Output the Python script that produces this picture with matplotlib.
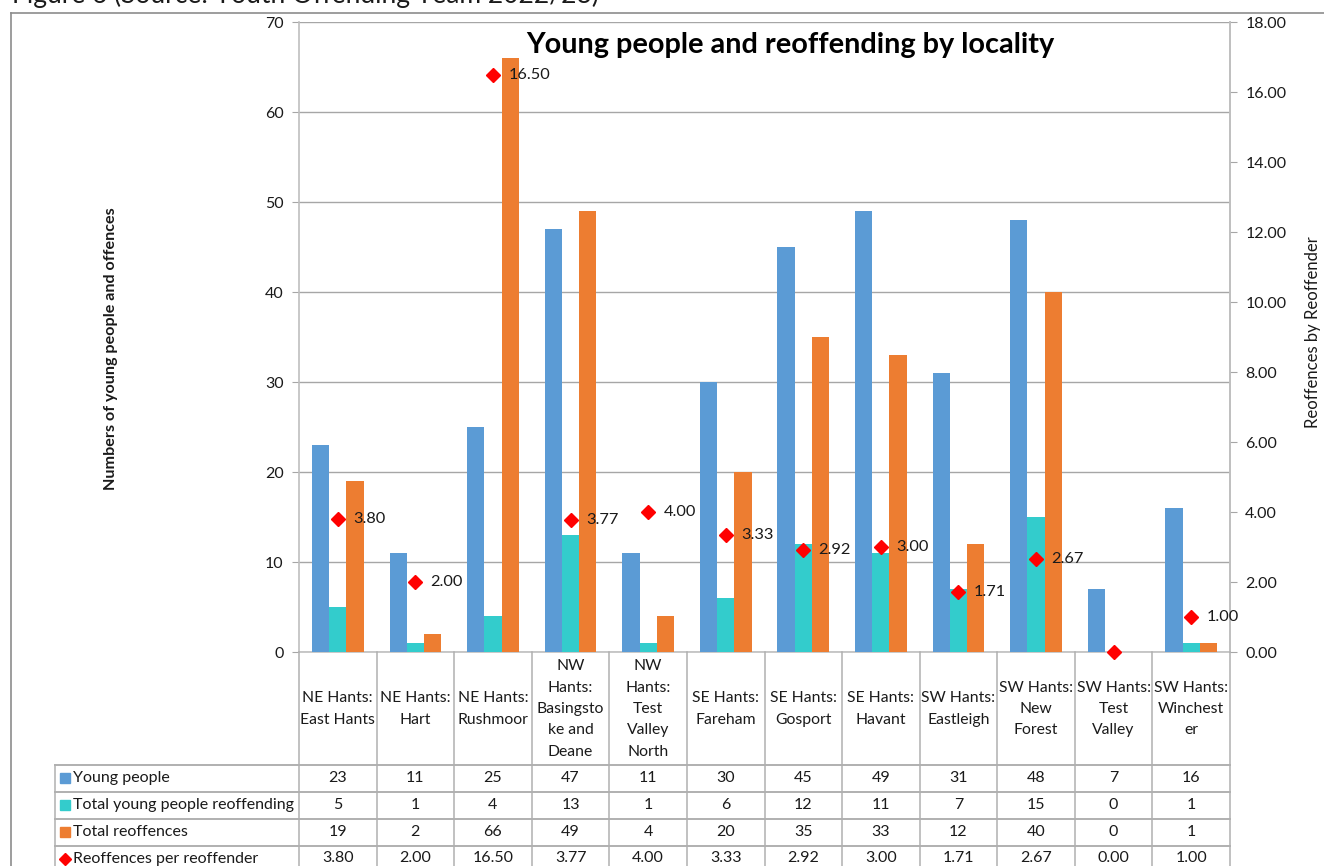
import matplotlib
matplotlib.use("Agg")
import matplotlib.pyplot as plt
from matplotlib.transforms import blended_transform_factory
from matplotlib.lines import Line2D
import numpy as np

plt.rcParams['font.family'] = ['Lato', 'DejaVu Sans']

categories = ["NE Hants:\nEast Hants", "NE Hants:\nHart", "NE Hants:\nRushmoor",
              "NW\nHants:\nBasingsto\nke and\nDeane", "NW\nHants:\nTest\nValley\nNorth",
              "SE Hants:\nFareham", "SE Hants:\nGosport", "SE Hants:\nHavant",
              "SW Hants:\nEastleigh", "SW Hants:\nNew\nForest", "SW Hants:\nTest\nValley",
              "SW Hants:\nWinchest\ner"]
young_people = [23, 11, 25, 47, 11, 30, 45, 49, 31, 48, 7, 16]
young_reoffending = [5, 1, 4, 13, 1, 6, 12, 11, 7, 15, 0, 1]
total_reoffences = [19, 2, 66, 49, 4, 20, 35, 33, 12, 40, 0, 1]
reoffences_per = [3.80, 2.00, 16.50, 3.77, 4.00, 3.33, 2.92, 3.00, 1.71, 2.67, 0.00, 1.00]
series_names = ["Young people", "Total young people reoffending", "Total reoffences",
                "Reoffences per reoffender"]

C_BLUE = "#5B9BD5"
C_TEAL = "#33CCCC"
C_ORANGE = "#ED7D31"
C_RED = "#FF0000"
GRID = "#A6A6A6"
AXC = "#BFBFBF"
TXT = "#1a1a1a"

W, H = 1324, 866
fig = plt.figure(figsize=(W / 100, H / 100), dpi=100)

def fx(p):
    return p / W

def fy(p):
    return 1 - p / H

L, R, T, B = 299, 1230, 22, 652
ax = fig.add_axes([fx(L), fy(B), fx(R - L), (B - T) / H])
ax2 = ax.twinx()

n = len(categories)
x = np.arange(n)
bw = 1 / 4.5
ax.bar(x - bw, young_people, bw, color=C_BLUE, zorder=3)
ax.bar(x, young_reoffending, bw, color=C_TEAL, zorder=3)
ax.bar(x + bw, total_reoffences, bw, color=C_ORANGE, zorder=3)

ax.set_xlim(-0.5, n - 0.5)
ax.set_ylim(0, 70)
ax.set_yticks(range(0, 71, 10))
ax.set_xticks([])
ax.grid(axis='y', color=GRID, lw=1, zorder=0)
ax.set_axisbelow(True)
ax.spines['top'].set_visible(False)
for s in ['left', 'bottom', 'right']:
    ax.spines[s].set_color(AXC)
    ax.spines[s].set_linewidth(1.2)
ax.tick_params(axis='y', length=5, color=GRID, labelsize=11.5, labelcolor=TXT, pad=6)

ax2.set_ylim(0, 18)
ax2.set_yticks(np.arange(0, 18.1, 2))
ax2.set_yticklabels([f"{v:.2f}" for v in np.arange(0, 18.1, 2)])
ax2.tick_params(axis='y', length=5, color=GRID, labelsize=11.5, labelcolor=TXT, pad=6)
for s in ['top', 'left', 'bottom']:
    ax2.spines[s].set_visible(False)
ax2.spines['right'].set_color(AXC)
ax2.spines['right'].set_linewidth(1.2)
ax2.plot(x, reoffences_per, linestyle='none', marker='D', markersize=7,
         color=C_RED, zorder=5, clip_on=False)
for xi, v in zip(x, reoffences_per):
    if v > 0:
        ax2.annotate(f"{v:.2f}", (xi, v), xytext=(11, 0), textcoords='offset points',
                     va='center', ha='left', fontsize=11.8, color=TXT)

ax.set_ylabel("Numbers of young people and offences", fontsize=11.6, fontweight='bold',
              color=TXT)
ax.yaxis.set_label_coords((118 - L) / (R - L), (B - 349) / (B - T))
ax2.set_ylabel("Reoffences by Reoffender", fontsize=12, color=TXT)
ax2.yaxis.set_label_coords((1305 - L) / (R - L), (B - 332) / (B - T))

fig.text(fx(790), fy(45), "Young people and reoffending by locality", ha='center',
         va='center', fontsize=20.8, fontweight='bold', color='black')

# caption (cut off at top, as in the source)
fig.text(fx(12), fy(3), "Figure 6 (Source: Youth Offending Team 2022/23)", ha='left',
         va='baseline', fontsize=19, color=TXT)

# outer frame
fig.add_artist(Line2D([fx(11), fx(W + 5)], [fy(13), fy(13)], transform=fig.transFigure,
                      color="#8C8C8C", lw=1.2))
fig.add_artist(Line2D([fx(11), fx(11)], [fy(13), fy(H + 5)], transform=fig.transFigure,
                      color="#8C8C8C", lw=1.2))

# data table
tr = blended_transform_factory(ax.transData, fig.transFigure)
TL = "#B0B0B0"
row_edges = [765, 791.5, 818.5, 845.5]
for k in range(n + 1):
    fig.add_artist(Line2D([k - 0.5, k - 0.5], [fy(B), fy(H + 5)], transform=tr,
                          color=TL, lw=1.1))
for ry in row_edges:
    fig.add_artist(Line2D([fx(55), fx(R)], [fy(ry), fy(ry)], transform=fig.transFigure,
                          color=TL, lw=1.4))
fig.add_artist(Line2D([fx(55), fx(55)], [fy(765), fy(H + 5)], transform=fig.transFigure,
                      color=TL, lw=1.1))

for xi, lab in zip(x, categories):
    fig.text(xi, fy(709), lab, transform=tr, ha='center', va='center', fontsize=11.3,
             linespacing=1.66, color=TXT)

rows = [young_people, young_reoffending, total_reoffences, reoffences_per]
row_centers = [778, 805, 832, 858.5]
markers = [('s', C_BLUE, 7), ('s', C_TEAL, 7), ('s', C_ORANGE, 7), ('D', C_RED, 6)]
for ri, (vals, yc) in enumerate(zip(rows, row_centers)):
    for xi, v in zip(x, vals):
        s = f"{v:.2f}" if ri == 3 else f"{v}"
        fig.text(xi, fy(yc), s, transform=tr, ha='center', va='center', fontsize=11.5,
                 color=TXT)
    m, c, ms = markers[ri]
    fig.add_artist(Line2D([fx(65)], [fy(yc)], transform=fig.transFigure, marker=m,
                          markersize=ms, color=c, linestyle='none'))
    fig.text(fx(73), fy(yc), series_names[ri], ha='left', va='center', fontsize=11.5,
             color=TXT)

fig.savefig("out.png", dpi=100)
